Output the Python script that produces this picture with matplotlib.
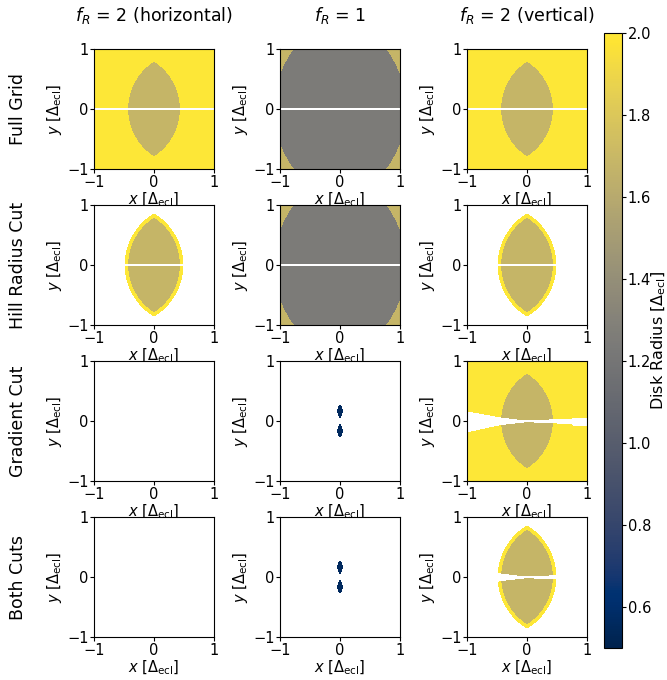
import numpy as np
import matplotlib.pyplot as plt

# Disk radius values (in units of Delta_ecl) assigned to each region of the grid
r_outer = 2.0        # outside the lens, f_R = 2
r_lens = 1.68        # inside the lens, f_R = 2
r_core = 1.25        # inside the wide lens, f_R = 1
r_blob = 0.56        # surviving points, f_R = 1 after gradient cut

# lens shapes: (x0, y0, half-width, half-height)
lens_inner = (0.0, 0.0, 0.43, 0.79)
lens_hill = (0.0, 0.0, 0.49, 0.86)
lens_wide = (0.0, 0.0, 1.10, 1.57)
blobs = [(0.0, 0.165, 0.045, 0.12), (0.0, -0.165, 0.045, 0.12)]

# gradient cut band (removed between lower and upper edge)
cut_x = [-1.0, -0.45, 0.0, 0.45, 0.75, 0.77, 1.0]
cut_top = [0.16, 0.06, 0.005, 0.03, 0.04, 0.05, 0.05]
cut_bot = [-0.19, -0.07, -0.02, -0.04, -0.05, -0.08, -0.08]

col_titles = [r'$f_R$ = 2 (horizontal)', r'$f_R$ = 1', r'$f_R$ = 2 (vertical)']
row_titles = ['Full Grid', 'Hill Radius Cut', 'Gradient Cut', 'Both Cuts']

n = 481
g = np.linspace(-1, 1, n)
X, Y = np.meshgrid(g, g)


def in_lens(lens):
    x0, y0, a, b = lens
    d = (b**2 - a**2) / (2 * a)
    r = d + a
    xx, yy = X - x0, Y - y0
    return ((xx - d)**2 + yy**2 <= r**2) & ((xx + d)**2 + yy**2 <= r**2)


zero_row = np.abs(Y) < 0.018
lo = np.interp(X, cut_x, cut_bot)
hi = np.interp(X, cut_x, cut_top)
grad_cut = (Y > lo) & (Y < hi)
hill_cut = ~in_lens(lens_hill)

# f_R = 2 full grid
full2 = np.where(in_lens(lens_inner), r_lens, r_outer)
full2[zero_row] = np.nan
# f_R = 1 full grid
full1 = np.where(in_lens(lens_wide), r_core, r_lens)
full1[zero_row] = np.nan

blob1 = np.full_like(X, np.nan)
for b in blobs:
    blob1[in_lens(b)] = r_blob

empty = np.full_like(X, np.nan)


def cut(arr, mask):
    out = arr.copy()
    out[mask] = np.nan
    return out


grids = [
    [full2, full1, full2],
    [cut(full2, hill_cut), full1, cut(full2, hill_cut)],
    [empty, blob1, cut(full2, grad_cut)],
    [empty, blob1, cut(full2, hill_cut | grad_cut)],
]

W, H = 667., 680.
fig = plt.figure(figsize=(W / 100, H / 100), dpi=100)

col_left = [94, 280, 467]
row_top = [49, 205, 361, 517]
aw, ah = 120, 120

for i in range(4):
    for j in range(3):
        ax = fig.add_axes([col_left[j] / W, 1 - (row_top[i] + ah) / H, aw / W, ah / H])
        im = ax.imshow(grids[i][j], extent=[-1, 1, -1, 1], origin='lower',
                       cmap='cividis', vmin=0.5, vmax=2.0, aspect='auto',
                       interpolation='nearest')
        ax.set_xlim(-1, 1)
        ax.set_ylim(-1, 1)
        ax.set_xticks([-1, 0, 1])
        ax.set_yticks([-1, 0, 1])
        ax.tick_params(labelsize=10.5, length=3, width=0.8, pad=1)
        ax.set_xlabel(r'$x$ [$\Delta_{\rm ecl}$]', fontsize=10.5, labelpad=1)
        ax.set_ylabel(r'$y$ [$\Delta_{\rm ecl}$]', fontsize=10.5, labelpad=2)
    fig.text(18 / W, 1 - (row_top[i] + ah / 2) / H, row_titles[i], rotation=90,
             ha='center', va='center', fontsize=12.5)

for j in range(3):
    fig.text((col_left[j] + aw / 2) / W, 1 - 15 / H, col_titles[j],
             ha='center', va='center', fontsize=12.5)

cax = fig.add_axes([604 / W, 1 - 648 / H, 18 / W, 615 / H])
cb = fig.colorbar(im, cax=cax)
cb.set_ticks([0.6, 0.8, 1.0, 1.2, 1.4, 1.6, 1.8, 2.0])
cb.ax.tick_params(labelsize=10.5, length=3, width=0.8, pad=1)
cb.set_label(r'Disk Radius [$\Delta_{\rm ecl}$]', fontsize=11.5, labelpad=-1)

fig.savefig('out.png', dpi=100)
